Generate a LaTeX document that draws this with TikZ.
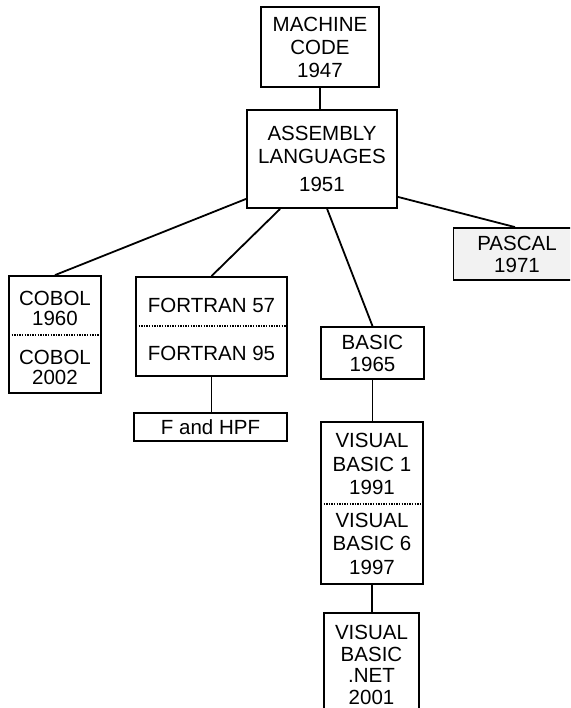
\documentclass[tikz,border=0pt]{standalone}
\usepackage{fontspec}
\setmainfont{Liberation Sans}
\usetikzlibrary{calc}
\begin{document}
\begin{tikzpicture}[x=1pt,y=-1pt,
  box/.style={draw, line width=1.8pt, inner sep=0pt, align=center, font=\fontsize{20.5}{23}\selectfont},
  txt/.style={inner sep=0pt, align=center, font=\fontsize{20.5}{20}\selectfont},
  link/.style={line width=1.8pt},
  sepline/.style={line width=1.4pt, dash pattern=on 1.3pt off 1.3pt}]
\useasboundingbox (0,0) rectangle (570,708);
\clip (0,0) rectangle (570,708);
% boxes
\node[box, minimum width=118pt, minimum height=80pt] (mc) at (320,47) {MACHINE\\CODE\\1947};
\node[box, minimum width=150pt, minimum height=98pt, font=\fontsize{20.5}{23}\selectfont] (asm) at (322,159) {ASSEMBLY\\LANGUAGES\\[5pt]1951};
\node[box, minimum width=92pt, minimum height=117pt] (cobol) at (55,334.5) {};
\node[txt] (cobolA) at (55,308) {COBOL\\1960};
\node[txt] (cobolB) at (55,367) {COBOL\\2002};
\draw[sepline] (9,335) -- (101,335);
\node[box, minimum width=151pt, minimum height=99pt] (fortran) at (211.5,326.5) {};
\node[txt] (fortranA) at (211.5,305.5) {FORTRAN 57};
\node[txt] (fortranB) at (211.5,353.5) {FORTRAN 95};
\draw[sepline] (136,326) -- (287,326);
\node[box, minimum width=153pt, minimum height=28pt] (fhpf) at (210.5,427) {F and HPF};
\node[box, minimum width=127pt, minimum height=52pt, fill=gray!10, font=\fontsize{20.5}{22}\selectfont] (pascal) at (517,254) {PASCAL\\1971};
\node[box, minimum width=103pt, minimum height=52pt, font=\fontsize{20.5}{22}\selectfont] (basic) at (372.5,353) {BASIC\\1965};
\node[box, minimum width=102pt, minimum height=162pt] (vb) at (372,503) {};
\node[txt, font=\fontsize{20.5}{23.5}\selectfont] (vbA) at (372,464) {VISUAL\\BASIC 1\\1991};
\node[txt, font=\fontsize{20.5}{23.5}\selectfont] (vbB) at (372,543.5) {VISUAL\\BASIC 6\\1997};
\draw[sepline] (321,504) -- (423,504);
\node[box, minimum width=95pt, minimum height=104pt, font=\fontsize{20.5}{21.5}\selectfont] (vbnet) at (371.5,665) {VISUAL\\BASIC\\.NET\\2001};
% connectors
\draw[link] (mc.south) -- (mc.south |- asm.north);
\draw[link] ($(asm.south west)+(0,-10)$) -- (cobol.north);
\draw[link] ($(asm.south west)+(34,0)$) -- (fortran.north);
\draw[link] ($(asm.south west)+(81,0)$) -- (basic.north);
\draw[link] ($(asm.south east)+(0,-12)$) -- ($(pascal.north)+(-2,0)$);
\draw[link] (fortran.south) -- (fortran.south |- fhpf.north);
\draw[link] (basic.south) -- (basic.south |- vb.north);
\draw[link] (vb.south) -- (vb.south |- vbnet.north);
\end{tikzpicture}
\end{document}
